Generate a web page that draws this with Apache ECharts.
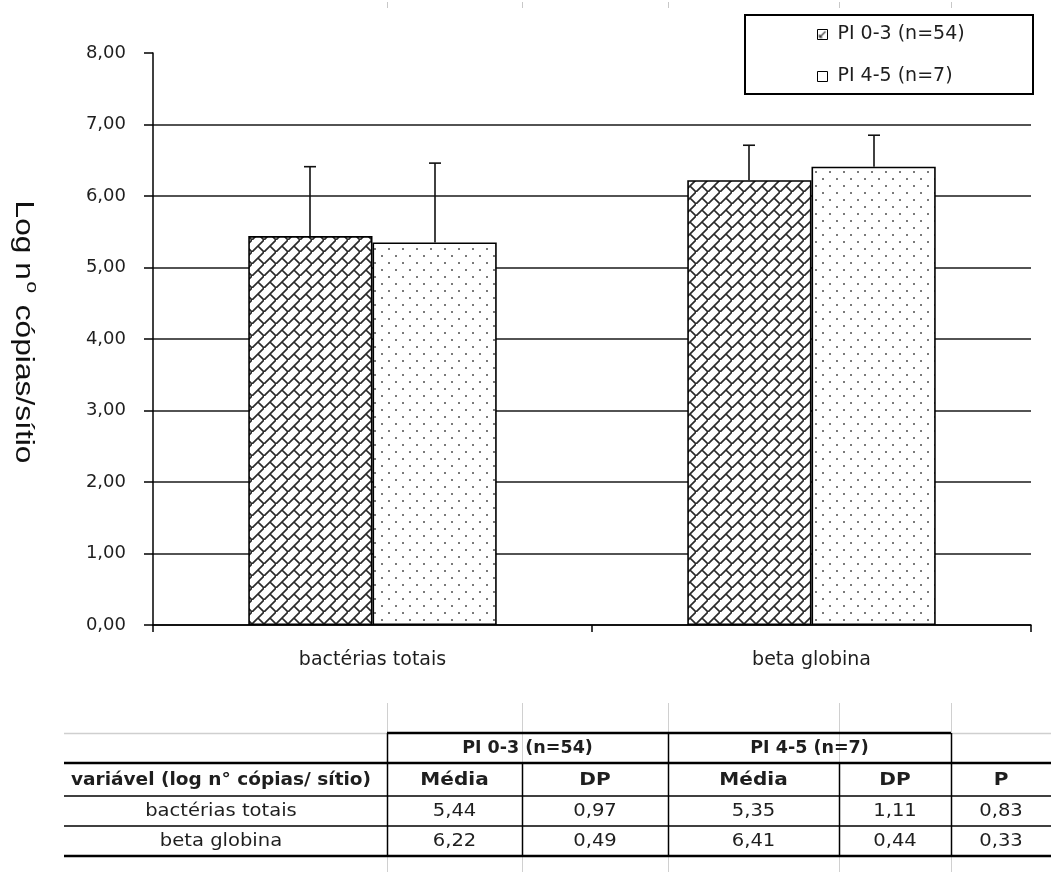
<!DOCTYPE html>
<html><head><meta charset="utf-8">
<script src="https://cdn.jsdelivr.net/npm/echarts@6/dist/echarts.min.js"></script>
<style>html,body{margin:0;padding:0;background:#fff}#c{width:1051px;height:872px}</style>
</head><body><div id="c"></div>
<script>
// ---- data ----
const categories = ['bactérias totais', 'beta globina'];
const seriesNames = ['PI 0-3 (n=54)', 'PI 4-5 (n=7)'];
const mean03 = [5.44, 6.22];
const sd03 = [0.97, 0.49];
const mean45 = [5.35, 6.41];
const sd45 = [1.11, 0.44];
const pValues = [0.83, 0.33];
const yMin = 0, yMax = 8, yStep = 1;
const yAxisTitleMain = ['Log n', ' cópias/sítio'];
const yAxisTitleSup = 'o';
const tableGroupHeaders = ['PI 0-3 (n=54)', 'PI 4-5 (n=7)'];
const tableColHeaders = ['variável (log n° cópias/ sítio)', 'Média', 'DP', 'Média', 'DP', 'P'];

// ---- helpers ----
const fmt = v => v.toFixed(2).replace('.', ',');
const FONT = 'DejaVu Sans';
const TXT = '#1e1e1e';
const BAR_FRAC = 0.283;

function hatchCanvas(size, lw, color) {
  const c = document.createElement('canvas'); c.width = c.height = size;
  const g = c.getContext('2d');
  g.fillStyle = '#fff'; g.fillRect(0, 0, size, size);
  g.strokeStyle = color; g.lineWidth = lw; g.lineCap = 'square';
  g.beginPath();
  g.moveTo(-1, size + 1); g.lineTo(size + 1, -1);
  g.moveTo(size / 2, size / 2); g.lineTo(size, size);
  g.stroke();
  return c;
}
function dotCanvas() {
  const c = document.createElement('canvas'); c.width = c.height = 14;
  const g = c.getContext('2d');
  g.fillStyle = '#fff'; g.fillRect(0, 0, 14, 14);
  g.fillStyle = '#7a7a7a';
  g.fillRect(3, 3, 2, 2); g.fillRect(10, 10, 2, 2);
  return c;
}
function smallHatch() {
  const c = document.createElement('canvas'); c.width = c.height = 10;
  const g = c.getContext('2d');
  g.fillStyle = '#fff'; g.fillRect(0, 0, 10, 10);
  g.strokeStyle = '#333'; g.lineWidth = 1.2;
  g.beginPath(); g.moveTo(2, 8); g.lineTo(8, 2); g.moveTo(2, 8); g.lineTo(2, 5); g.moveTo(2, 8); g.lineTo(5, 8); g.stroke();
  return c;
}
const hatchPat = { image: hatchCanvas(12, 1.7, '#2a2a2a'), repeat: 'repeat' };
const dotPat = { image: dotCanvas(), repeat: 'repeat' };

function errorSeries(means, sds, idx) {
  return {
    type: 'custom',
    name: seriesNames[idx] + ' DP',
    data: means.map((m, i) => [i, m, m + sds[i]]),
    encode: { x: 0, y: [1, 2] },
    z: 3,
    silent: true,
    renderItem: (params, api) => {
      const c = api.value(0);
      const lo = api.coord([c, api.value(1)]);
      const hi = api.coord([c, api.value(2)]);
      const band = api.size([1, 0])[0];
      const bw = band * BAR_FRAC;
      const x = Math.round(lo[0] + (idx - 0.5) * bw);
      return {
        type: 'group', children: [
          { type: 'line', shape: { x1: x, y1: lo[1], x2: x, y2: hi[1] }, style: { stroke: '#111', lineWidth: 1.6 } },
          { type: 'line', shape: { x1: x - 6, y1: hi[1], x2: x + 6, y2: hi[1] }, style: { stroke: '#111', lineWidth: 1.6 } }
        ]
      };
    }
  };
}

// ---- table (graphic) ----
const edges = [64, 387, 522, 668, 839, 951, 1051];
const G = [];
[1, 2, 3, 4, 5].forEach(i => {
  G.push({ type: 'line', shape: { x1: edges[i] + 0.5, y1: 2, x2: edges[i] + 0.5, y2: 8 }, style: { stroke: '#c8c8c8', lineWidth: 1 } });
  G.push({ type: 'line', shape: { x1: edges[i] + 0.5, y1: 703, x2: edges[i] + 0.5, y2: 872 }, style: { stroke: '#d0d0d0', lineWidth: 1 } });
});
G.push({ type: 'line', shape: { x1: edges[0], y1: 733.5, x2: edges[1], y2: 733.5 }, style: { stroke: '#cfcfcf', lineWidth: 1.5 } });
G.push({ type: 'line', shape: { x1: edges[5], y1: 733.5, x2: edges[6], y2: 733.5 }, style: { stroke: '#cfcfcf', lineWidth: 1.5 } });
G.push({ type: 'line', shape: { x1: edges[1], y1: 733, x2: edges[5], y2: 733 }, style: { stroke: '#000', lineWidth: 2.5 } });
G.push({ type: 'line', shape: { x1: edges[0], y1: 763, x2: edges[6], y2: 763 }, style: { stroke: '#000', lineWidth: 2.5 } });
G.push({ type: 'line', shape: { x1: edges[0], y1: 796, x2: edges[6], y2: 796 }, style: { stroke: '#000', lineWidth: 1.5 } });
G.push({ type: 'line', shape: { x1: edges[0], y1: 826, x2: edges[6], y2: 826 }, style: { stroke: '#000', lineWidth: 1.5 } });
G.push({ type: 'line', shape: { x1: edges[0], y1: 856, x2: edges[6], y2: 856 }, style: { stroke: '#000', lineWidth: 2.5 } });
[[1, 733], [3, 733], [5, 733], [2, 763], [4, 763]].forEach(([i, y0]) => {
  G.push({ type: 'line', shape: { x1: edges[i] + 0.5, y1: y0, x2: edges[i] + 0.5, y2: 856 }, style: { stroke: '#000', lineWidth: 1.5 } });
});
function cellText(txt, cx, cy, bold, sx, size) {
  G.push({
    type: 'text', x: cx, y: cy, scaleX: sx, z: 10,
    style: { text: txt, fill: TXT, font: (bold ? 'bold ' : '') + (size || 17) + 'px "' + FONT + '"', align: 'center', verticalAlign: 'middle' }
  });
}
const ctr = i => (edges[i] + edges[i + 1]) / 2;
cellText(tableGroupHeaders[0], (edges[1] + edges[3]) / 2, 749, true, 1.03);
cellText(tableGroupHeaders[1], (edges[3] + edges[5]) / 2, 749, true, 1.03);
tableColHeaders.forEach((h, i) => {
  cellText(h, i === 0 ? 221 : ctr(i), 781, true, i === 0 ? 1.09 : 1.18);
});
const tableRows = categories.map((c, i) => [c, fmt(mean03[i]), fmt(sd03[i]), fmt(mean45[i]), fmt(sd45[i]), fmt(pValues[i])]);
const rowY = [812, 842];
tableRows.forEach((r, ri) => r.forEach((v, ci) => cellText(v, ci === 0 ? 221 : ctr(ci), rowY[ri], false, 1.15)));

// legend box
G.push({ type: 'rect', shape: { x: 745, y: 15, width: 288, height: 79 }, style: { fill: '#fff', stroke: '#000', lineWidth: 2 }, z: 0 });

// y axis title
G.push({
  type: 'text', x: 25, y: 332, rotation: -Math.PI / 2, scaleX: 1.27, z: 10,
  style: {
    text: '{a|' + yAxisTitleMain[0] + '}{s|' + yAxisTitleSup + '}{a|' + yAxisTitleMain[1] + '}',
    align: 'center', verticalAlign: 'middle',
    rich: {
      a: { fontFamily: 'Liberation Sans', fontSize: 25, fill: '#111', lineHeight: 30, verticalAlign: 'bottom' },
      s: { fontFamily: 'Liberation Sans', fontSize: 17, fill: '#111', lineHeight: 30, verticalAlign: 'top', padding: [0, 2, 0, 1] }
    }
  }
});

const chart = echarts.init(document.getElementById('c'), null, { renderer: 'canvas' });
chart.setOption({
  animation: false,
  backgroundColor: '#fff',
  grid: { left: 153, right: 20, top: 53, bottom: 247, containLabel: false },
  legend: {
    orient: 'vertical', left: 817, top: 25, padding: 0, itemGap: 23,
    itemWidth: 10, itemHeight: 10, icon: 'rect', z: 20,
    textStyle: { fontFamily: FONT, fontSize: 19, color: TXT, padding: [0, 0, 0, 5] },
    itemStyle: { borderColor: '#000', borderWidth: 1 },
    data: [
      { name: seriesNames[0], itemStyle: { color: { image: smallHatch(), repeat: 'no-repeat' }, borderColor: '#000', borderWidth: 1 } },
      { name: seriesNames[1], itemStyle: { color: '#fff', borderColor: '#000', borderWidth: 1 } }
    ]
  },
  xAxis: {
    type: 'category', data: categories,
    axisLine: { lineStyle: { color: '#000', width: 1.5 } },
    axisTick: { show: true, length: 7, lineStyle: { color: '#000', width: 1.5 } },
    axisLabel: { fontFamily: FONT, fontSize: 19, color: TXT, margin: 26 }
  },
  yAxis: {
    type: 'value', min: yMin, max: yMax, interval: yStep,
    axisLine: { show: true, lineStyle: { color: '#000', width: 1.5 } },
    axisTick: { show: true, length: 9, lineStyle: { color: '#000', width: 1.5 } },
    axisLabel: { fontFamily: FONT, fontSize: 18, color: TXT, margin: 27, formatter: v => fmt(v) },
    splitLine: { show: true, showMaxLine: false, lineStyle: { color: '#1a1a1a', width: 1.5 } }
  },
  series: [
    { type: 'bar', name: seriesNames[0], data: mean03, barWidth: (BAR_FRAC * 100) + '%', barGap: '0%',
      itemStyle: { color: hatchPat, borderColor: '#000', borderWidth: 1.6 }, z: 2 },
    { type: 'bar', name: seriesNames[1], data: mean45, barWidth: (BAR_FRAC * 100) + '%', barGap: '0%',
      itemStyle: { color: dotPat, borderColor: '#000', borderWidth: 1.6 }, z: 2 },
    errorSeries(mean03, sd03, 0),
    errorSeries(mean45, sd45, 1)
  ],
  graphic: { elements: G }
});
</script>
</body></html>
